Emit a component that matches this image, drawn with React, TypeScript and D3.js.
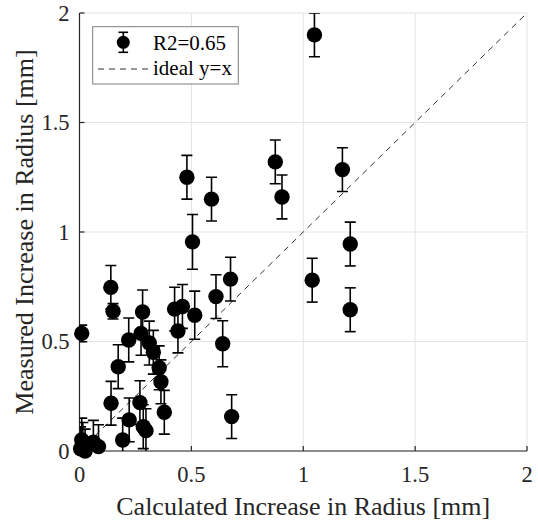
import React from "react";
import * as d3 from "d3";

const xVals = [1.05, 0.48, 0.59, 0.875, 0.905, 1.175, 0.505, 1.21, 1.04, 1.21, 0.675, 0.61, 0.64, 0.68, 0.515, 0.425, 0.46, 0.44, 0.14, 0.15, 0.01, 0.282, 0.22, 0.275, 0.312, 0.33, 0.356, 0.364, 0.379, 0.173, 0.141, 0.27, 0.222, 0.285, 0.297, 0.193, 0.01, 0.005, 0.015, 0.025, 0.062, 0.085];
const yVals = [1.9, 1.25, 1.15, 1.32, 1.16, 1.285, 0.955, 0.945, 0.78, 0.645, 0.785, 0.705, 0.49, 0.157, 0.62, 0.648, 0.66, 0.548, 0.747, 0.638, 0.537, 0.635, 0.507, 0.537, 0.493, 0.451, 0.38, 0.316, 0.177, 0.385, 0.218, 0.221, 0.142, 0.111, 0.093, 0.05, 0.05, 0.01, 0.03, 0.0, 0.04, 0.02];
const errVals = [0.1, 0.1, 0.1, 0.1, 0.1, 0.1, 0.125, 0.1, 0.1, 0.1, 0.1, 0.1, 0.105, 0.1, 0.11, 0.1, 0.1, 0.1, 0.1, 0.035, 0.038, 0.1, 0.1, 0.1, 0.1, 0.1, 0.1, 0.1, 0.1, 0.1, 0.1, 0.1, 0.1, 0.1, 0.1, 0.1, 0.1, 0.1, 0.1, 0.1, 0.1, 0.1];

const xTicks = [0, 0.5, 1, 1.5, 2];
const yTicks = [0, 0.5, 1, 1.5, 2];
const xTickLabels = ["0", "0.5", "1", "1.5", "2"];
const yTickLabels = ["0", "0.5", "1", "1.5", "2"];
const xLabel = "Calculated Increase in Radius [mm]";
const yLabel = "Measured Increase in Radius [mm]";
const legendLabels = ["R2=0.65", "ideal y=x"];
const idealLine = [0, 2];

const FONT = "'Liberation Serif', 'Times New Roman', serif";

export default function App() {
  const x = d3.scaleLinear().domain([0, 2]).range([79.5, 527]);
  const y = d3.scaleLinear().domain([0, 2]).range([451, 13]);
  const r = 7.7;
  const cap = 5.5;
  const pts = xVals.map((v, i) => ({ x: v, y: yVals[i], e: errVals[i] }));
  const line = d3.line<number>().x((d) => x(d)).y((d) => y(d));

  return (
    <svg width={538} height={525} style={{ position: "absolute", left: 0, top: 0, background: "#fff" }} fontFamily={FONT}>
      <defs>
        <clipPath id="plotclip">
          <rect x={x(0)} y={y(2)} width={x(2) - x(0)} height={y(0) - y(2)} />
        </clipPath>
      </defs>
      {/* grid */}
      {xTicks.map((t) => (
        <line key={"gx" + t} x1={x(t)} x2={x(t)} y1={y(0)} y2={y(2)} stroke="#e3e3e3" strokeWidth={1} />
      ))}
      {yTicks.map((t) => (
        <line key={"gy" + t} x1={x(0)} x2={x(2)} y1={y(t)} y2={y(t)} stroke="#e3e3e3" strokeWidth={1} />
      ))}
      {/* ideal line */}
      <path d={line(idealLine) || ""} stroke="#333" strokeWidth={1} strokeDasharray="6,5" fill="none" />
      {/* axes */}
      <line x1={x(0)} x2={x(2)} y1={y(0)} y2={y(0)} stroke="#262626" strokeWidth={1.2} />
      <line x1={x(0)} x2={x(0)} y1={y(0)} y2={y(2)} stroke="#262626" strokeWidth={1.2} />
      {xTicks.map((t, i) => (
        <g key={"xt" + t}>
          <line x1={x(t)} x2={x(t)} y1={y(0)} y2={y(0) - 5} stroke="#262626" strokeWidth={1.2} />
          <text x={x(t)} y={482} textAnchor="middle" fontSize={22.5} fill="#262626">{xTickLabels[i]}</text>
        </g>
      ))}
      {yTicks.map((t, i) => (
        <g key={"yt" + t}>
          <line x1={x(0)} x2={x(0) + 5} y1={y(t)} y2={y(t)} stroke="#262626" strokeWidth={1.2} />
          <text x={69.5} y={y(t) + 7.5} textAnchor="end" fontSize={22.5} fill="#262626">{yTickLabels[i]}</text>
        </g>
      ))}
      {/* data */}
      <g clipPath="url(#plotclip)">
        {pts.map((p, i) => (
          <g key={"e" + i}>
            <line x1={x(p.x)} x2={x(p.x)} y1={y(p.y - p.e)} y2={y(p.y + p.e)} stroke="#000" strokeWidth={1.6} />
            <line x1={x(p.x) - cap} x2={x(p.x) + cap} y1={y(p.y - p.e)} y2={y(p.y - p.e)} stroke="#000" strokeWidth={1.6} />
            <line x1={x(p.x) - cap} x2={x(p.x) + cap} y1={y(p.y + p.e)} y2={y(p.y + p.e)} stroke="#000" strokeWidth={1.6} />
          </g>
        ))}
      </g>
      {pts.map((p, i) => (
        <circle key={"c" + i} cx={x(p.x)} cy={y(p.y)} r={r} fill="#000" />
      ))}
      <text x={(x(0) + x(2)) / 2} y={515} textAnchor="middle" fontSize={26} fill="#262626">{xLabel}</text>
      <text transform={`translate(33,${(y(0) + y(2)) / 2}) rotate(-90)`} textAnchor="middle" fontSize={26} fill="#262626">{yLabel}</text>
      {/* legend */}
      <rect x={92.7} y={26.7} width={145.6} height={57.3} fill="#fff" stroke="#7f7f7f" strokeWidth={1} />
      <line x1={123.3} x2={123.3} y1={32.3} y2={52.3} stroke="#000" strokeWidth={1.6} />
      <line x1={118.5} x2={128.1} y1={32.3} y2={32.3} stroke="#000" strokeWidth={1.6} />
      <line x1={118.5} x2={128.1} y1={52.3} y2={52.3} stroke="#000" strokeWidth={1.6} />
      <circle cx={123.3} cy={42.3} r={6.5} fill="#000" />
      <text x={153} y={49.5} fontSize={21} fill="#000">{legendLabels[0]}</text>
      <line x1={98} x2={150} y1={69} y2={69} stroke="#333" strokeWidth={1} strokeDasharray="6,5" />
      <text x={153} y={75} fontSize={21} fill="#000">{legendLabels[1]}</text>
    </svg>
  );
}
